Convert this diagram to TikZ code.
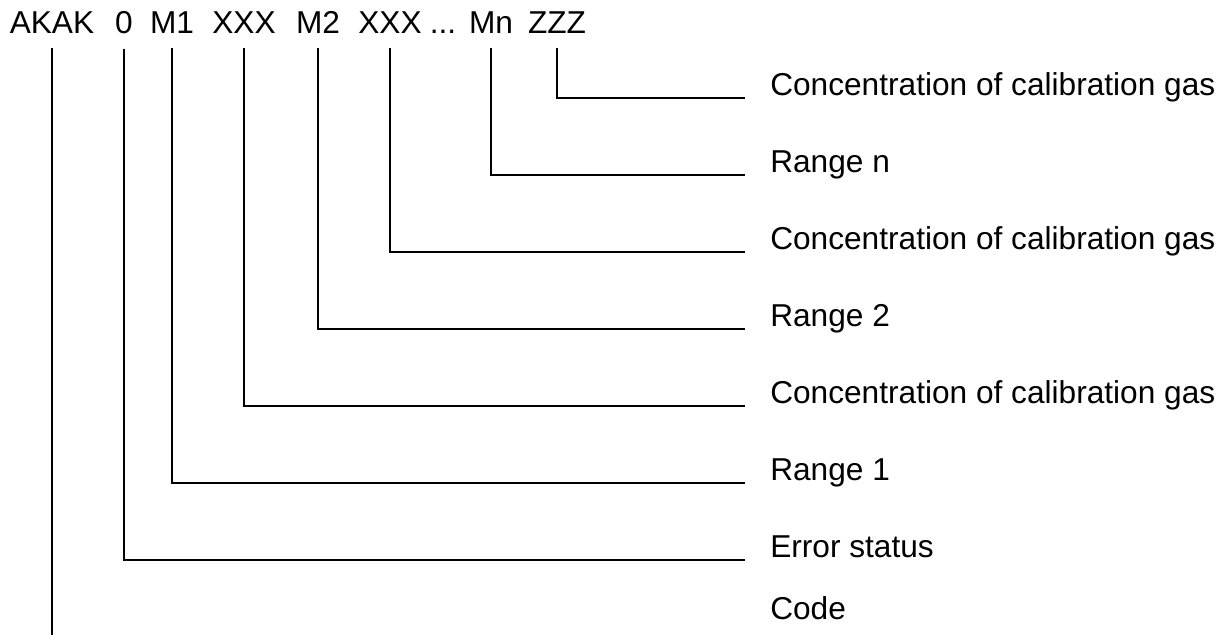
\documentclass[tikz,border=0pt]{standalone}
\usepackage{fontspec}
\setmainfont{Liberation Sans}
\usetikzlibrary{positioning}

\begin{document}
\begin{tikzpicture}[
    x=0.025cm, y=-0.025cm,
    field/.style={anchor=base, inner xsep=0pt, inner ysep=0.35cm, font=\fontsize{22.5}{27}\selectfont},
    desc/.style={anchor=south west, inner xsep=0.625cm, inner ysep=0.05cm, text depth=0pt, font=\fontsize{22.5}{27}\selectfont},
    lead/.style={line width=0.9pt}
]
\useasboundingbox (0,0) rectangle (1222,635);
% telegram fields
\node[field] (akak) at (52,34) {AKAK};
\node[field] (err) at (124,34) {0};
\node[field] (mone) at (172,34) {M1};
\node[field] (xone) at (244,34) {XXX};
\node[field] (mtwo) at (318,34) {M2};
\node[field] (xtwo) at (390,34) {XXX};
\node[field] (dots) at (443,34) {...};
\node[field] (mn) at (491,34) {Mn};
\node[field] (zzz) at (557,34) {ZZZ};
% descriptions
\node[desc] (gasn) at (745,98) {Concentration of calibration gas};
\node[desc] (rngn) at (745,175) {Range n};
\node[desc] (gastwo) at (745,252) {Concentration of calibration gas};
\node[desc] (rngtwo) at (745,329) {Range 2};
\node[desc] (gasone) at (745,406) {Concentration of calibration gas};
\node[desc] (rngone) at (745,483) {Range 1};
\node[desc] (status) at (745,560) {Error status};
\node[desc] (code) at (745,622) {Code};
\coordinate (tail) at (52,635);

\draw[lead] (akak.south) -- (tail);
\draw[lead] (err.south) |- (status.south west);
\draw[lead] (mone.south) |- (rngone.south west);
\draw[lead] (xone.south) |- (gasone.south west);
\draw[lead] (mtwo.south) |- (rngtwo.south west);
\draw[lead] (xtwo.south) |- (gastwo.south west);
\draw[lead] (mn.south) |- (rngn.south west);
\draw[lead] (zzz.south) |- (gasn.south west);
\end{tikzpicture}
\end{document}
